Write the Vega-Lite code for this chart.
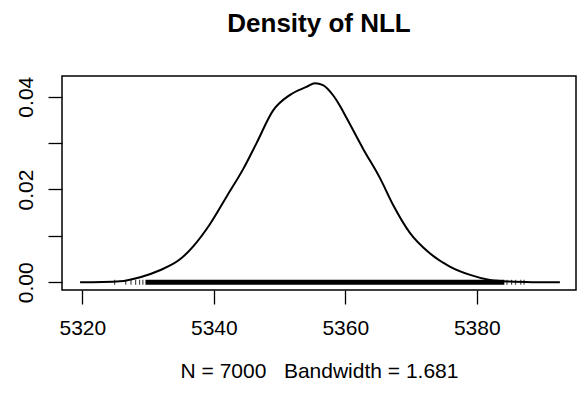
{
  "$schema": "https://vega.github.io/schema/vega-lite/v6.json",
  "width": 514,
  "height": 214,
  "autosize": {"type": "none"},
  "padding": {"left": 62, "top": 76, "right": 5, "bottom": 105},
  "background": "white",
  "title": {
    "text": "Density of NLL",
    "font": "Liberation Sans",
    "fontSize": 26,
    "fontWeight": "bold",
    "color": "#000",
    "anchor": "middle",
    "baseline": "alphabetic",
    "offset": 18
  },
  "config": {
    "font": "Liberation Sans",
    "view": {"stroke": "#000", "strokeWidth": 1.5}
  },
  "datasets": {
    "curve": [
      {"nll": 5319.65, "density": 0.0},
      {"nll": 5323.0, "density": 0.00005},
      {"nll": 5325.7, "density": 0.0002},
      {"nll": 5328.8, "density": 0.0011},
      {"nll": 5331.8, "density": 0.0026},
      {"nll": 5334.9, "density": 0.0050},
      {"nll": 5336.9, "density": 0.0078},
      {"nll": 5339.4, "density": 0.0125},
      {"nll": 5342.0, "density": 0.0186},
      {"nll": 5344.5, "density": 0.0245},
      {"nll": 5346.5, "density": 0.0300},
      {"nll": 5349.0, "density": 0.0370},
      {"nll": 5351.6, "density": 0.0404},
      {"nll": 5354.1, "density": 0.0421},
      {"nll": 5355.4, "density": 0.0429},
      {"nll": 5356.6, "density": 0.0425},
      {"nll": 5358.2, "density": 0.0402},
      {"nll": 5359.2, "density": 0.0380},
      {"nll": 5360.2, "density": 0.0354},
      {"nll": 5362.7, "density": 0.0288},
      {"nll": 5365.3, "density": 0.0224},
      {"nll": 5367.3, "density": 0.0166},
      {"nll": 5369.8, "density": 0.0107},
      {"nll": 5372.9, "density": 0.0062},
      {"nll": 5375.9, "density": 0.0034},
      {"nll": 5379.0, "density": 0.0016},
      {"nll": 5382.0, "density": 0.0005},
      {"nll": 5385.0, "density": 0.00015},
      {"nll": 5388.5, "density": 0.00003},
      {"nll": 5392.65, "density": 0.0}
    ],
    "rugBand": [
      {"from": 5329.6, "to": 5384.2, "level": 0}
    ],
    "rugTails": [
      {"nll": 5324.9},
      {"nll": 5326.6},
      {"nll": 5327.4},
      {"nll": 5328.1},
      {"nll": 5328.7},
      {"nll": 5329.2},
      {"nll": 5384.6},
      {"nll": 5385.3},
      {"nll": 5385.9},
      {"nll": 5386.7},
      {"nll": 5387.2}
    ]
  },
  "layer": [
    {
      "data": {"name": "rugBand"},
      "mark": {"type": "rule", "color": "#000", "strokeWidth": 5},
      "encoding": {
        "x": {
          "field": "from",
          "type": "quantitative",
          "scale": {"domain": [5316.9, 5395.1], "nice": false, "zero": false},
          "axis": {
            "values": [5320, 5340, 5360, 5380],
            "format": "d",
            "title": "N = 7000 \u00a0 Bandwidth = 1.681",
            "grid": false,
            "domain": false,
            "tickSize": 14,
            "tickColor": "#000",
            "tickWidth": 1.3,
            "labelFont": "Liberation Sans",
            "labelFontSize": 21,
            "labelColor": "#000",
            "labelPadding": 13,
            "labelFlush": false,
            "titleFont": "Liberation Sans",
            "titleFontSize": 21,
            "titleFontWeight": "normal",
            "titleColor": "#000",
            "titlePadding": 22
          }
        },
        "x2": {"field": "to"},
        "y": {
          "field": "level",
          "type": "quantitative",
          "scale": {"domain": [-0.00166, 0.04446], "nice": false, "zero": false},
          "axis": {
            "values": [0, 0.01, 0.02, 0.03, 0.04],
            "labelExpr": "datum.value == 0.01 || datum.value == 0.03 ? '' : format(datum.value, '.2f')",
            "title": null,
            "grid": false,
            "domain": false,
            "tickSize": 14,
            "tickColor": "#000",
            "tickWidth": 1.3,
            "labelAngle": 270,
            "labelFont": "Liberation Sans",
            "labelFontSize": 21,
            "labelColor": "#000",
            "labelPadding": 12
          }
        }
      }
    },
    {
      "data": {"name": "rugTails"},
      "mark": {"type": "tick", "orient": "vertical", "color": "#000", "thickness": 1.2, "size": 5},
      "encoding": {
        "x": {"field": "nll", "type": "quantitative"},
        "y": {"datum": 0, "type": "quantitative"}
      }
    },
    {
      "data": {"name": "curve"},
      "mark": {"type": "line", "color": "#000", "strokeWidth": 2, "interpolate": "monotone"},
      "encoding": {
        "x": {"field": "nll", "type": "quantitative"},
        "y": {"field": "density", "type": "quantitative"}
      }
    }
  ]
}
